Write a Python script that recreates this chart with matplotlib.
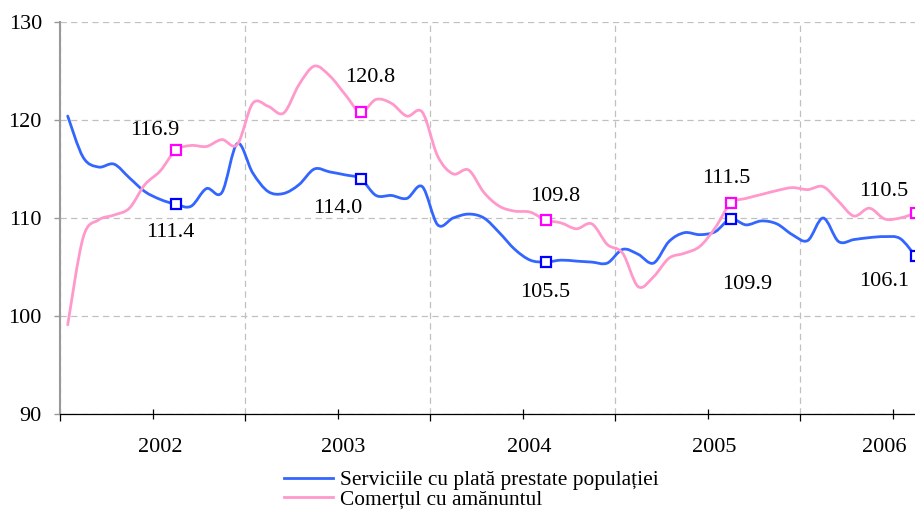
import numpy as np
import matplotlib
matplotlib.use('Agg')
import matplotlib.pyplot as plt
from matplotlib.path import Path
from matplotlib.patches import PathPatch
from matplotlib.lines import Line2D
import matplotlib.transforms as mtransforms

# monthly indices, Jan 2002 .. Aug 2006
years = ['2002', '2003', '2004', '2005', '2006']
servicii = [
    120.4, 116.2, 115.2, 115.5, 114.1, 112.7, 111.9, 111.4, 111.2, 113.0, 112.6, 117.6,
    114.6, 112.7, 112.5, 113.4, 115.0, 114.7, 114.4, 114.0, 112.3, 112.3, 112.0, 113.2,
    109.3, 110.0, 110.4, 110.0, 108.5, 106.8, 105.7, 105.5, 105.7, 105.6, 105.5, 105.4,
    106.8, 106.3, 105.4, 107.6, 108.5, 108.3, 108.6, 109.9, 109.3, 109.7, 109.4, 108.3,
    107.7, 110.0, 107.6, 107.8, 108.0, 108.1, 107.9, 106.1,
]
comert = [
    99.1, 108.0, 109.8, 110.3, 111.0, 113.4, 114.8, 116.9, 117.4, 117.3, 118.0, 117.5,
    121.7, 121.4, 120.7, 123.6, 125.5, 124.5, 122.6, 120.8, 122.1, 121.7, 120.4, 120.8,
    116.3, 114.5, 114.9, 112.6, 111.2, 110.7, 110.6, 109.8, 109.5, 108.9, 109.4, 107.3,
    106.4, 103.0, 104.0, 105.9, 106.4, 107.1, 109.0, 111.5, 112.0, 112.4, 112.8, 113.1,
    112.9, 113.2, 111.7, 110.2, 111.0, 109.9, 110.0, 110.5,
]
marked = [7, 19, 31, 43, 55]  # August of each year
names = ['Serviciile cu plată prestate populației', 'Comerțul cu amănuntul']

# label offsets (pixels) for the marked points
off_servicii = [(-5, -28), (-23, -30), (0, -30), (17, -66), (-31, -25)]
off_comert = [(-21, 20), (10, 35), (10, 23), (-4, 25), (-32, 22)]
year_shift = [8, 6, 7, 7, -8]

plt.rcParams['font.family'] = ['Liberation Serif', 'DejaVu Serif']
FS = 16
BLUE, PINK = '#3366FF', '#FF99CC'
GRID = '#C0C0C0'


def smooth_path(x, y):
    # excel-like smoothed line: cubic bezier with catmull-rom tangents
    pts = np.column_stack([x, y])
    ext = np.vstack([pts[0], pts, pts[-1]])
    verts = [pts[0]]
    codes = [Path.MOVETO]
    for i in range(len(pts) - 1):
        p0, p1, p2, p3 = ext[i], ext[i + 1], ext[i + 2], ext[i + 3]
        verts += [p1 + (p2 - p0) / 6., p2 - (p3 - p1) / 6., p2]
        codes += [Path.CURVE4] * 3
    return Path(verts, codes)


fig = plt.figure(figsize=(9.15, 5.11), dpi=100)
ax = fig.add_axes([60 / 915, 97 / 511, 925 / 915, 392 / 511])

x = np.arange(len(servicii)) + 0.5
for vals, col, mcol, offs in [(servicii, BLUE, '#0000FF', off_servicii),
                              (comert, PINK, '#FF00FF', off_comert)]:
    ax.add_patch(PathPatch(smooth_path(x, vals), fc='none', ec=col, lw=2.0,
                           zorder=3, capstyle='round', joinstyle='round'))
    mx = x[marked]
    my = np.asarray(vals)[marked]
    ax.plot(mx, my, ls='none', marker='s', ms=6.5, mfc='white', mec=mcol,
            mew=1.6, zorder=4, clip_on=False)
    for xi, yi, o in zip(mx, my, offs):
        ax.annotate('{:.1f}'.format(yi), (xi, yi), xytext=o,
                    textcoords='offset pixels', ha='center', va='center',
                    fontsize=FS, zorder=5)

ax.set_xlim(0, 60)
ax.set_ylim(90, 130)
ax.set_yticks([90, 100, 110, 120, 130])
ax.set_xticks(np.arange(0, 61, 12))
ax.set_xticklabels([])
ax.set_xticks(np.arange(6, 60, 12), minor=True)
ax.set_xticklabels(years, minor=True)

ax.grid(True, axis='both', which='major', color=GRID, ls=(0, (5, 3.5)), lw=0.9)
for s in ['top', 'right']:
    ax.spines[s].set_visible(False)
ax.spines['left'].set_color('#999999')
ax.spines['left'].set_linewidth(1.5)
ax.spines['bottom'].set_color('black')
ax.spines['bottom'].set_linewidth(0.9)

ax.tick_params(axis='y', length=4, width=1, color='#999999', pad=9, labelsize=FS)
ax.tick_params(axis='x', which='major', length=5, width=0.9, direction='out')
ax.tick_params(axis='x', which='minor', length=7, width=0.9, direction='inout',
               pad=14, labelsize=FS)
for lab, dx in zip(ax.get_xticklabels(minor=True), year_shift):
    shift = mtransforms.ScaledTranslation(dx / 100, 0, fig.dpi_scale_trans)
    lab.set_transform(lab.get_transform() + shift)

handles = [Line2D([], [], color=BLUE, lw=2.0), Line2D([], [], color=PINK, lw=2.0)]
fig.legend(handles, names, loc='center left', bbox_to_anchor=(284 / 915, 1 - 490 / 511),
           frameon=False, fontsize=15.4, handlelength=2.3, handletextpad=0.3,
           labelspacing=-0.02, borderpad=0, borderaxespad=0)

fig.savefig('out.png', dpi=100)
